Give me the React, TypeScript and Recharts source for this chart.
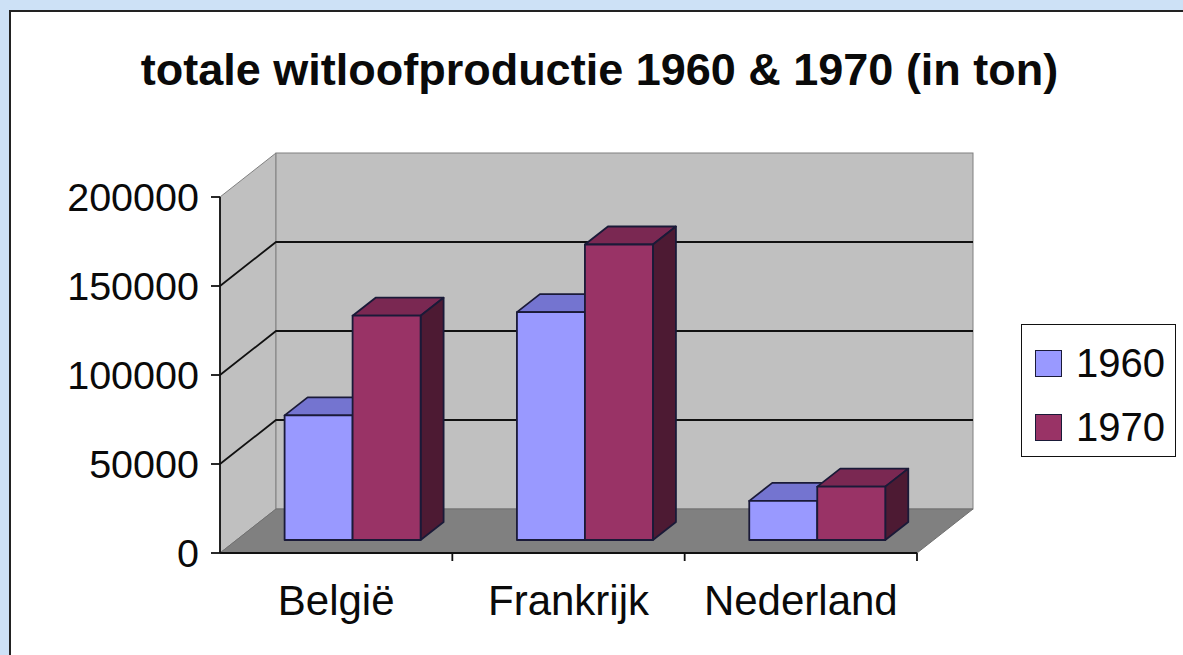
import { BarChart, Bar, XAxis, YAxis, ReferenceArea, Legend } from 'recharts';

const categories = ['België', 'Frankrijk', 'Nederland'];
const values1960 = [70000, 128000, 22000];
const values1970 = [126000, 166000, 30000];
const seriesNames = ['1960', '1970'];
const yTicks = [0, 50000, 100000, 150000, 200000];

const data = categories.map((name, i) => ({ name, v1960: values1960[i], v1970: values1970[i] }));

const FONT = '"Liberation Sans", Arial, sans-serif';
// depth of the whole 3D box and of a single bar
const DEPTH = { dx: 56, dy: -44 };
const BAR_OFFSET = { dx: 16.5, dy: -13 };
const BAR_DEPTH = { dx: 23, dy: -18 };

const COLORS = {
  '1960': { front: '#9999ff', top: '#7474d0', side: '#5555a8' },
  '1970': { front: '#993366', top: '#7a2852', side: '#4d1a33' },
};
const OUTLINE = '#1a1a38';
const LEGEND_W = 155;

function Walls({ x, y, width, height }: any) {
  const { dx, dy } = DEPTH;
  const by = y + height;
  const max = yTicks[yTicks.length - 1];
  const pt = (a: number, b: number) => `${a},${b}`;
  return (
    <g>
      <polygon
        points={[pt(x, by), pt(x, y), pt(x + dx, y + dy), pt(x + dx, by + dy)].join(' ')}
        fill="#c0c0c0"
        stroke="#808080"
      />
      <rect x={x + dx} y={y + dy} width={width} height={height} fill="#c0c0c0" stroke="#808080" />
      <polygon
        points={[pt(x, by), pt(x + width, by), pt(x + width + dx, by + dy), pt(x + dx, by + dy)].join(' ')}
        fill="#808080"
        stroke="#707070"
      />
      {yTicks.slice(1, -1).map((t) => {
        const yy = by - (t / max) * height;
        return (
          <polyline
            key={t}
            points={[pt(x, yy), pt(x + dx, yy + dy), pt(x + width + dx, yy + dy)].join(' ')}
            fill="none"
            stroke="#111"
            strokeWidth={1.8}
          />
        );
      })}
      {categories.map((_, i) => (
        <line key={i} x1={x + ((i + 1) * width) / categories.length} y1={by} x2={x + ((i + 1) * width) / categories.length} y2={by + 8} stroke="#111" strokeWidth={1.8} />
      ))}
    </g>
  );
}

function Box3D({ x, y, width, height, colors }: any) {
  if (!height) return null;
  const ox = x + BAR_OFFSET.dx;
  const oy = y + BAR_OFFSET.dy;
  const { dx, dy } = BAR_DEPTH;
  const pt = (a: number, b: number) => `${a},${b}`;
  return (
    <g stroke={OUTLINE} strokeWidth={1.8} strokeLinejoin="round">
      <polygon points={[pt(ox, oy), pt(ox + width, oy), pt(ox + width + dx, oy + dy), pt(ox + dx, oy + dy)].join(' ')} fill={colors.top} />
      <polygon
        points={[pt(ox + width, oy), pt(ox + width + dx, oy + dy), pt(ox + width + dx, oy + height + dy), pt(ox + width, oy + height)].join(' ')}
        fill={colors.side}
      />
      <rect x={ox} y={oy} width={width} height={height} fill={colors.front} />
    </g>
  );
}

function LegendBox() {
  return (
    <div
      style={{
        width: LEGEND_W,
        height: 133,
        border: '1.8px solid #111',
        background: '#fff',
        fontFamily: FONT,
        fontSize: 40,
        color: '#0a0a0a',
        boxSizing: 'border-box',
        padding: '13px 0 0 13px',
      }}
    >
      {seriesNames.map((s) => (
        <div key={s} style={{ display: 'flex', alignItems: 'center', height: 50, marginBottom: 14 }}>
          <span
            style={{
              display: 'inline-block',
              width: 25,
              height: 25,
              background: COLORS[s as '1960' | '1970'].front,
              border: `1.8px solid ${OUTLINE}`,
              marginRight: 14,
            }}
          />
          <span>{s}</span>
        </div>
      ))}
    </div>
  );
}

export default function App() {
  return (
    <div style={{ position: 'fixed', left: 0, top: 0, right: 0, bottom: 0, background: '#cde1f6', overflow: 'hidden' }}>
      <div
        style={{
          position: 'absolute',
          left: 9,
          top: 10,
          right: -20,
          bottom: -20,
          background: '#fff',
          borderLeft: '2px solid #222',
          borderTop: '2px solid #222',
        }}
      />
      <div
        style={{
          position: 'absolute',
          left: 0,
          top: 44,
          width: 1199,
          textAlign: 'center',
          fontFamily: FONT,
          fontWeight: 'bold',
          fontSize: 45,
          color: '#0a0a0a',
          lineHeight: '52px',
        }}
      >
        totale witloofproductie 1960 &amp; 1970 (in ton)
      </div>
      <div style={{ position: 'absolute', left: 0, top: 0 }}>
        <BarChart
          width={1183}
          height={655}
          data={data}
          margin={{ top: 197, right: 266 - LEGEND_W, bottom: 42, left: 0 }}
          barCategoryGap="20.7%"
          barGap={0}
        >
          <ReferenceArea y1={0} y2={200000} ifOverflow="visible" shape={(p: any) => <Walls {...p} />} />
          <XAxis
            dataKey="name"
            axisLine={{ stroke: '#111', strokeWidth: 1.8 }}
            tickLine={false}
            tickMargin={26}
            height={60}
            tick={{ fill: '#0a0a0a', fontSize: 42, fontFamily: FONT }}
          />
          <YAxis
            width={220}
            domain={[0, 200000]}
            ticks={yTicks}
            axisLine={{ stroke: '#111', strokeWidth: 1.8 }}
            tickLine={{ stroke: '#111', strokeWidth: 1.8 }}
            tickSize={9}
            tickMargin={12}
            tick={{ fill: '#0a0a0a', fontSize: 39.5, fontFamily: FONT }}
          />
          <Legend
            layout="horizontal"
            verticalAlign="middle"
            align="right"
            wrapperStyle={{ left: 1021, top: 324, width: LEGEND_W, height: 133 }}
            content={() => <LegendBox />}
          />
          <Bar dataKey="v1960" name="1960" fill={COLORS['1960'].front} isAnimationActive={false} shape={(p: any) => <Box3D {...p} colors={COLORS['1960']} />} />
          <Bar dataKey="v1970" name="1970" fill={COLORS['1970'].front} isAnimationActive={false} shape={(p: any) => <Box3D {...p} colors={COLORS['1970']} />} />
        </BarChart>
      </div>
    </div>
  );
}
